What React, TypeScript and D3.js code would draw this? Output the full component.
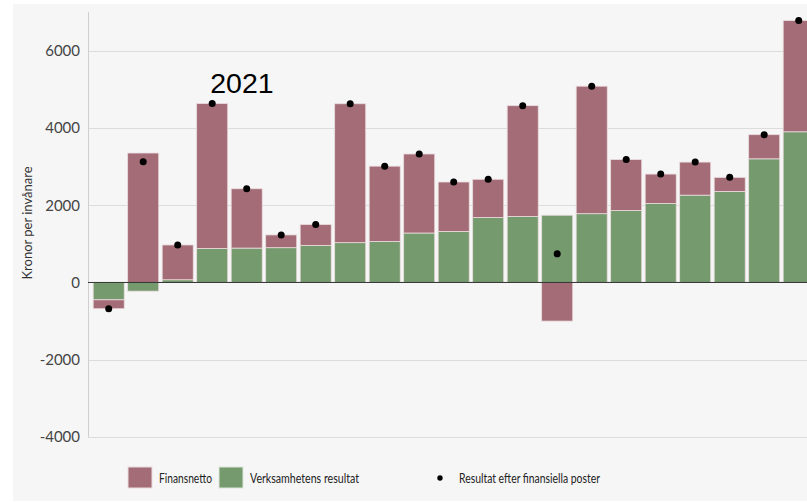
import { useMemo } from "react";
import { scaleBand, scaleLinear, stack, stackOffsetDiverging } from "d3";

// bars, sorted by Verksamhetens resultat (kr per invånare)
const categories = [
  "1", "2", "3", "4", "5", "6", "7", "8", "9", "10", "11",
  "12", "13", "14", "15", "16", "17", "18", "19", "20", "21",
];
const verksamhet = [
  -450, -225, 70, 880, 890, 900, 960, 1030, 1060, 1280, 1320,
  1680, 1710, 1740, 1780, 1860, 2045, 2260, 2355, 3200, 3900,
];
const finansnetto = [
  -230, 3350, 900, 3750, 1535, 330, 540, 3595, 1950, 2045, 1280,
  990, 2865, -1000, 3300, 1320, 760, 855, 365, 625, 2880,
];
const yTicks = [-4000, -2000, 0, 2000, 4000, 6000];
const annotatedIndex = 3;
const annotationText = "2021";

const W = 807;
const H = 502;
const FIN = "#a36c76";
const VERK = "#749a6e";

export default function App() {
  const x = scaleBand<string>()
    .domain(categories)
    .range([88, 88 + 34.5 * 21.2])
    .paddingInner(0.1)
    .paddingOuter(0.15);
  const y = scaleLinear().domain([-4000, 7000]).range([437, 12]);

  const rows = useMemo(
    () =>
      categories.map((c, i) => ({
        cat: c,
        verk: verksamhet[i],
        fin: finansnetto[i],
      })),
    []
  );
  const series = stack<any>()
    .keys(["verk", "fin"])
    .offset(stackOffsetDiverging)(rows);

  const colors: Record<string, string> = { verk: VERK, fin: FIN };

  return (
    <svg
      width={W}
      height={H}
      style={{ position: "absolute", left: 0, top: 0 }}
      fontFamily="Lato, sans-serif"
    >
      <rect x={13} y={4} width={W - 13} height={H - 5} fill="#f6f6f6" />

      {/* grid */}
      {yTicks.map((t) => (
        <line
          key={t}
          x1={88}
          x2={W}
          y1={Math.round(y(t)) + 0.5}
          y2={Math.round(y(t)) + 0.5}
          stroke="#dcdcdc"
          strokeWidth={1.2}
        />
      ))}
      <line x1={88.5} x2={88.5} y1={12} y2={437} stroke="#cfcfcf" />

      {/* tick labels */}
      {yTicks.map((t) => (
        <text
          key={t}
          x={80}
          y={y(t)}
          dy="0.36em"
          textAnchor="end"
          fontSize={15}
          fill="#444"
        >
          {t}
        </text>
      ))}
      <text
        transform={`translate(32,223) rotate(-90)`}
        textAnchor="middle"
        fontSize={13}
        fill="#333"
      >
        Kronor per invånare
      </text>

      {/* bars */}
      {series.map((s) =>
        s.map((d, i) => (
          <rect
            key={s.key + i}
            x={x(categories[i])}
            width={x.bandwidth()}
            y={y(Math.max(d[0], d[1]))}
            height={Math.abs(y(d[0]) - y(d[1]))}
            fill={colors[s.key]}
            stroke="#eadcdf"
            strokeWidth={0.8}
          />
        ))
      )}
      <line x1={88} x2={W} y1={y(0)} y2={y(0)} stroke="#333" strokeWidth={1} />

      {/* result dots */}
      {categories.map((c, i) => (
        <circle
          key={c}
          cx={(x(c) ?? 0) + x.bandwidth() / 2}
          cy={y(verksamhet[i] + finansnetto[i])}
          r={3.5}
          fill="#000"
        />
      ))}

      <text
        x={(x(categories[annotatedIndex]) ?? 0) + x.bandwidth() / 2 - 2}
        y={92.5}
        fontFamily="'Liberation Sans', Arial, sans-serif"
        fontSize={28.5}
        fill="#000"
      >
        {annotationText}
      </text>

      {/* legend */}
      <g fontSize={14} fill="#222">
        <rect x={128} y={467} width={24} height={21} fill={FIN} stroke="#eadcdf" />
        <text x={159} y={478} dy="0.35em" textLength={53} lengthAdjust="spacingAndGlyphs">
          Finansnetto
        </text>
        <rect x={219} y={467} width={24} height={21} fill={VERK} stroke="#dde6db" />
        <text x={250} y={478} dy="0.35em" textLength={109} lengthAdjust="spacingAndGlyphs">
          Verksamhetens resultat
        </text>
        <circle cx={440} cy={478} r={2.7} fill="#000" />
        <text x={459} y={478} dy="0.35em" textLength={141} lengthAdjust="spacingAndGlyphs">
          Resultat efter finansiella poster
        </text>
      </g>
    </svg>
  );
}
